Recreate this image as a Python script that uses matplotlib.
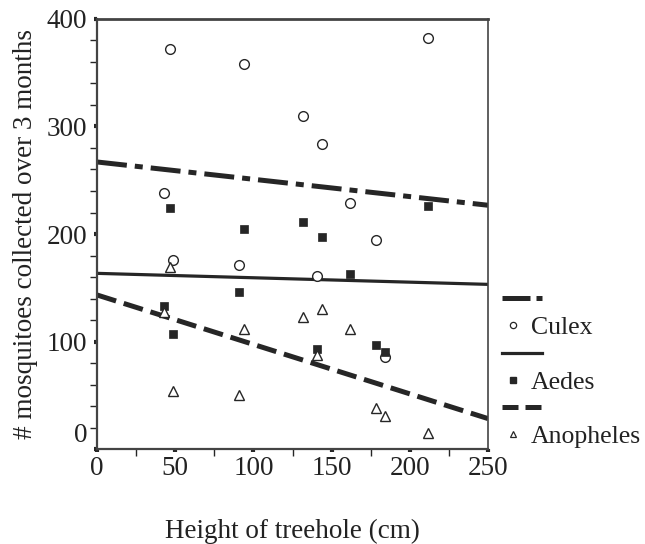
import matplotlib
matplotlib.use("Agg")
import numpy as np
import matplotlib.pyplot as plt
import matplotlib.transforms as mtransforms
from matplotlib.lines import Line2D
from matplotlib.legend_handler import HandlerLine2D

plt.rcParams["font.family"] = ["Liberation Serif", "DejaVu Serif"]

# treehole heights (cm) and counts per genus
heights = [42.6, 46.4, 48.6, 90.8, 94.3, 131.9, 140.8, 143.6, 161.7, 178.2, 183.9, 211.8]
culex = [238, 372, 176, 171, 358, 310, 161, 284, 229, 194, 86, 382]
aedes = [133, 224, 107, 146, 205, 211, 93, 197, 163, 97, 90, 226]
anopheles = [127, 169, 54, 50, 112, 123, 87, 130, 112, 38, 31, 15]

# fitted trend lines (intercept, slope)
trend_culex = (267.0, -0.161)
trend_aedes = (163.4, -0.041)
trend_anoph = (143.3, -0.460)

xticks = [0, 50, 100, 150, 200, 250]
yticks = [0, 100, 200, 300, 400]

INK = "#262626"
TXT = "#222222"

fig = plt.figure(figsize=(6.45, 5.44), dpi=100)
ax = fig.add_axes([0.1504, 0.1746, 0.6062, 0.7905])

xx = np.array([0, 250])
ax.plot(xx, trend_culex[0] + trend_culex[1] * xx, color=INK, lw=3.6,
        dashes=(6.0, 1.6, 1.6, 1.6), solid_capstyle="butt", dash_capstyle="butt")
ax.plot(xx, trend_aedes[0] + trend_aedes[1] * xx, color=INK, lw=2.3)
ax.plot(xx, trend_anoph[0] + trend_anoph[1] * xx, color=INK, lw=3.6,
        dashes=(4.0, 1.6), dash_capstyle="butt")

ax.plot(heights, culex, ls="none", marker="o", ms=7, mfc="white", mec=INK, mew=1.0)
ax.plot(heights, aedes, ls="none", marker="s", ms=5.5, mfc=INK, mec=INK, mew=0.5)
ax.plot(heights, anopheles, ls="none", marker="^", ms=6.5, mfc="white", mec=INK, mew=1.0)

ax.set_xlim(0, 250)
ax.set_ylim(0, 400)
ax.set_xticks(xticks)
ax.set_yticks(yticks)
ax.set_xticks(np.arange(25, 250, 50), minor=True)
ax.set_yticks([v for v in range(20, 400, 20) if v % 100], minor=True)
ax.tick_params(which="major", direction="out", length=2, width=3, color=INK,
               labelsize=19.5, labelcolor=TXT)
ax.tick_params(axis="x", which="major", pad=3)
ax.tick_params(axis="y", which="major", pad=5)
ax.tick_params(which="minor", direction="out", length=5, width=1, color=INK)

for side in ["left", "bottom", "top", "right"]:
    ax.spines[side].set_color("#444444")
ax.spines["left"].set_linewidth(1.6)
ax.spines["bottom"].set_linewidth(1.6)
ax.spines["top"].set_linewidth(2.0)
ax.spines["right"].set_linewidth(1.2)

# the "0" label on the y axis sits a bit high in the original
lab0 = ax.yaxis.get_major_ticks()[0].label1
lab0.set_transform(lab0.get_transform() +
                   mtransforms.ScaledTranslation(0, 0.17, fig.dpi_scale_trans))

ax.set_xlabel("Height of treehole (cm)", fontsize=19.5, color=TXT, labelpad=27)
ax.set_ylabel("# mosquitoes collected over 3 months", fontsize=19.5, color=TXT, labelpad=6)

# legend: trend line rows have no text, marker rows carry the genus name
h_cu_line = Line2D([], [], color=INK, lw=3.6, dashes=(5.6, 1.2, 1.2, 1.2), dash_capstyle="butt")
h_cu = Line2D([], [], ls="none", marker="o", ms=4.5, mfc="white", mec=INK, mew=0.9)
h_ae_line = Line2D([], [], color=INK, lw=2.3)
h_ae = Line2D([], [], ls="none", marker="s", ms=4.5, mfc=INK, mec=INK)
h_an_line = Line2D([], [], color=INK, lw=3.6, dashes=(3.2, 1.4), dash_capstyle="butt")
h_an = Line2D([], [], ls="none", marker="^", ms=5, mfc="white", mec=INK, mew=0.9)

handles = [h_cu_line, h_cu, h_ae_line, h_ae, h_an_line, h_an]
labels = ["", "Culex", "", "Aedes", "", "Anopheles"]
# shift the marker symbols toward the left of the handle box
left_marker = {h: HandlerLine2D(numpoints=1, xpad=-0.7) for h in (h_cu, h_ae, h_an)}
leg = fig.legend(handles, labels, loc="upper left", bbox_to_anchor=(0.778, 0.4685),
                 frameon=False, fontsize=18.5, handlelength=1.55, handletextpad=-0.43,
                 labelspacing=0.165, borderpad=0, borderaxespad=0,
                 handler_map=left_marker)
for t in leg.get_texts():
    t.set_color(TXT)

fig.savefig("out.png", dpi=100, facecolor="white")
